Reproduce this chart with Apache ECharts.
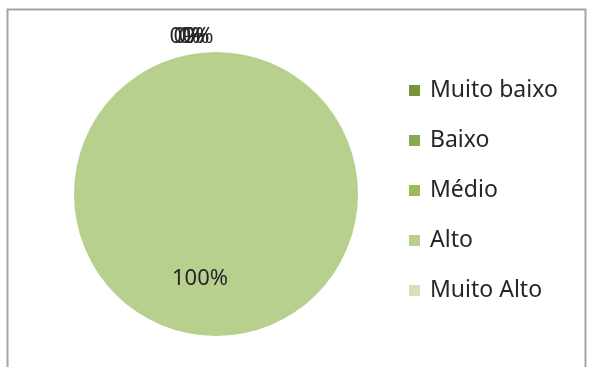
<!DOCTYPE html>
<html><head><meta charset="utf-8">
<script src="https://cdn.jsdelivr.net/npm/echarts@6/dist/echarts.min.js"></script>
<style>html,body{margin:0;padding:0;background:#fff}#c{width:591px;height:367px}</style>
</head><body><div id="c"></div>
<script>
const categories = ['Muito baixo', 'Baixo', 'Médio', 'Alto', 'Muito Alto'];
const values = [0, 0, 0, 100, 0];
const colors = ['#77933c', '#8aa84f', '#9bbb59', '#b8d08e', '#d5e1bb'];
const zeroLabelX = { 0: 185, 1: 189, 2: 194, 4: 198 };
const FONT = 'Noto Sans';
const total = values.reduce((a, b) => a + b, 0);
const data = categories.map((name, i) => ({ name, value: values[i], itemStyle: { color: colors[i] } }));
const chart = echarts.init(document.getElementById('c'));
chart.setOption({
  animation: false,
  backgroundColor: '#fff',
  graphic: [{ type: 'rect', shape: { x: 7.5, y: 9.5, width: 578, height: 380 },
    style: { fill: 'none', stroke: '#a6a6a6', lineWidth: 2 }, silent: true }],
  legend: {
    orient: 'vertical', left: 404, top: 74, itemWidth: 11, itemHeight: 11, itemGap: 27,
    icon: 'rect', textStyle: { fontFamily: FONT, fontSize: 23, color: '#262626', padding: [0, 0, 0, 5] },
    data: categories
  },
  series: [{
    type: 'pie', center: [216, 194], radius: 142, startAngle: 90, clockwise: true,
    avoidLabelOverlap: false, silent: true,
    label: { show: true, position: 'inside', formatter: p => Math.round(p.value / total * 100) + '%',
      fontFamily: FONT, fontSize: 22, color: '#262626' },
    labelLine: { show: false },
    labelLayout: p => values[p.dataIndex] === 0
      ? { x: zeroLabelX[p.dataIndex], y: 37, align: 'center', verticalAlign: 'middle', hideOverlap: false }
      : { dx: -16, dy: 11, hideOverlap: false },
    data
  }]
});
</script></body></html>
